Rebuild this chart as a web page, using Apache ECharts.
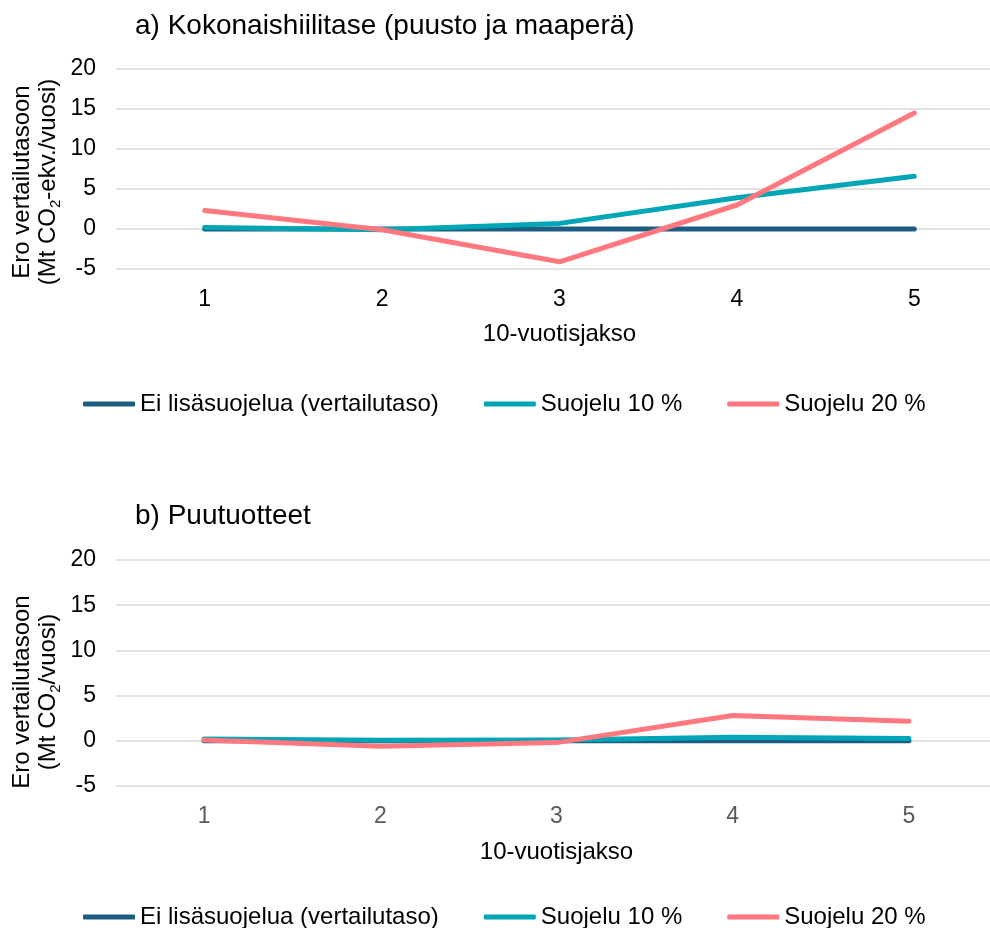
<!DOCTYPE html>
<html><head><meta charset="utf-8">
<script src="https://cdn.jsdelivr.net/npm/echarts@6/dist/echarts.min.js"></script>
<style>html,body{margin:0;padding:0;background:#fff}#c{width:990px;height:928px}</style>
</head><body><div id="c"></div>
<script>
const categories = ['1','2','3','4','5'];
const seriesNames = ['Ei lisäsuojelua (vertailutaso)','Suojelu 10 %','Suojelu 20 %'];
const aBase = [0,0,0,0,0];
const a10 = [0.2,-0.1,0.7,3.9,6.6];
const a20 = [2.3,-0.1,-4.1,3.0,14.5];
const bBase = [0,0,0,0,0];
const b10 = [0.2,0.05,0.1,0.4,0.25];
const b20 = [0.1,-0.6,-0.2,2.8,2.15];
const yTicks = [-5,0,5,10,15,20];
const colors = ['#1B5E82','#00A6B6','#FF7880'];

const FONT = 'Liberation Sans, Arial, sans-serif';
const chart = echarts.init(document.getElementById('c'), null, {renderer:'canvas'});

function yAxis(gi){
  return {
    type:'value', gridIndex:gi, min:yTicks[0], max:yTicks[yTicks.length-1], interval:5,
    axisLine:{show:false}, axisTick:{show:false},
    axisLabel:{fontFamily:FONT, fontSize:23, color:'#000', margin:20},
    splitLine:{lineStyle:{color:'#d9d9d9', width:1.5}}
  };
}
function xAxis(gi, labelColor, gap){
  return {
    type:'category', gridIndex:gi, data:categories, boundaryGap:true,
    axisLine:{show:false}, axisTick:{show:false},
    axisLabel:{fontFamily:FONT, fontSize:23, color:labelColor, margin:19},
    name:'10-vuotisjakso', nameLocation:'middle', nameGap:gap,
    nameTextStyle:{fontFamily:FONT, fontSize:24, color:'#000'}
  };
}
function line(name, data, gi, color){
  return {type:'line', name:name, data:data, xAxisIndex:gi, yAxisIndex:gi,
    showSymbol:false, symbol:'none', lineStyle:{color:color, width:5, cap:'round', join:'round'},
    itemStyle:{color:color}, silent:true, animation:false};
}
function legend(top){
  return {top:top, left:83, padding:0, itemWidth:52, itemHeight:5, itemGap:45, icon:'roundRect',
    textStyle:{fontFamily:FONT, fontSize:24, color:'#000'},
    data:seriesNames.map(n=>({name:n})), selectedMode:false};
}
function yName(cx, cy, unit){
  return {type:'text', x:cx, y:cy, rotation:Math.PI/2, silent:true,
    style:{text:'{n|Ero vertailutasoon}\n{n|(Mt CO}{s|2}{n|'+unit+')}',
      align:'center', verticalAlign:'middle', fill:'#000',
      rich:{n:{fontFamily:FONT,fontSize:24,fill:'#000',lineHeight:22, verticalAlign:'middle'},
            s:{fontFamily:FONT,fontSize:15,fill:'#000',lineHeight:30, verticalAlign:'bottom'}}}};
}

chart.setOption({
  animation:false,
  color:colors,
  title:[
    {text:'a) Kokonaishiilitase (puusto ja maaperä)', left:130, top:7, textStyle:{fontFamily:FONT,fontSize:28,fontWeight:'normal',color:'#000'}},
    {text:'b) Puutuotteet', left:130, top:497, textStyle:{fontFamily:FONT,fontSize:28,fontWeight:'normal',color:'#000'}}
  ],
  grid:[
    {left:116, width:887, top:69, height:200, outerBoundsMode:'none', containLabel:false},
    {left:116, width:881, top:560, height:226, outerBoundsMode:'none', containLabel:false}
  ],
  xAxis:[xAxis(0,'#000',53), xAxis(1,'#595959',54)],
  yAxis:[yAxis(0), yAxis(1)],
  legend:[legend(392), legend(905)],
  graphic:[yName(37,182,'-ekv./vuosi'), yName(37,692,'/vuosi')],
  series:[
    line(seriesNames[0], aBase, 0, colors[0]),
    line(seriesNames[1], a10, 0, colors[1]),
    line(seriesNames[2], a20, 0, colors[2]),
    line(seriesNames[0], bBase, 1, colors[0]),
    line(seriesNames[1], b10, 1, colors[1]),
    line(seriesNames[2], b20, 1, colors[2])
  ]
});
</script></body></html>
